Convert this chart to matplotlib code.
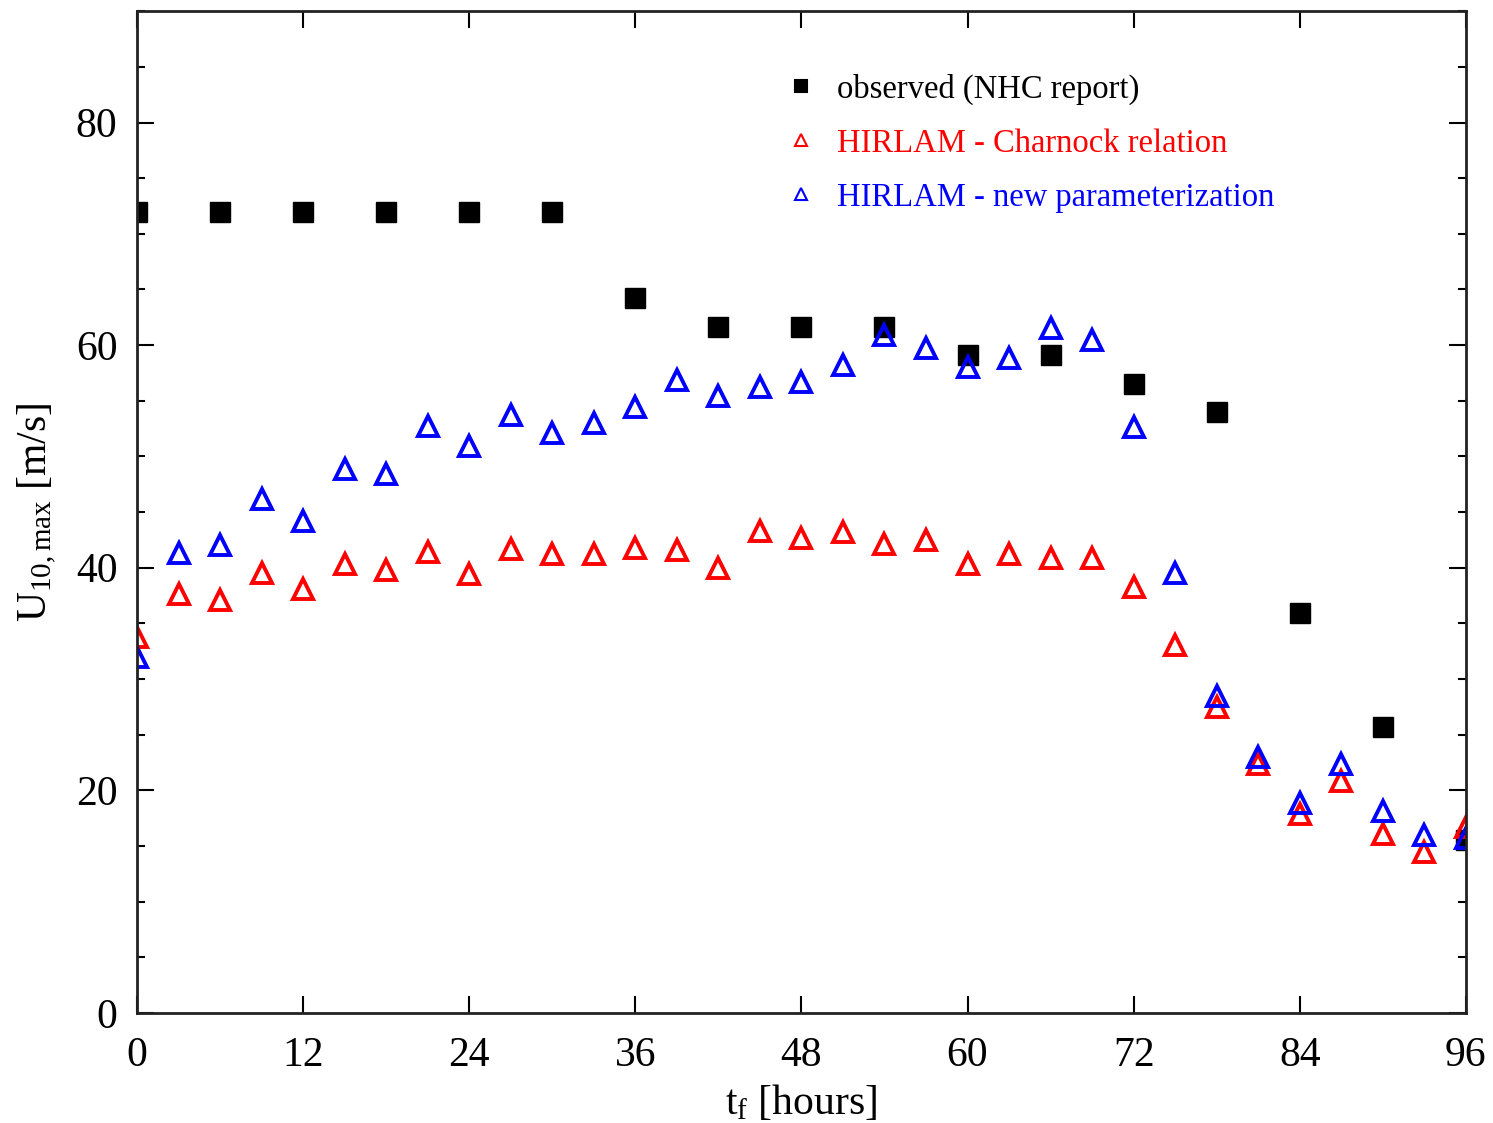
import matplotlib
matplotlib.use("Agg")
import matplotlib.pyplot as plt
from matplotlib.ticker import MultipleLocator

plt.rcParams['font.family'] = ['Liberation Serif', 'DejaVu Serif']
plt.rcParams['mathtext.fontset'] = 'custom'
plt.rcParams['mathtext.rm'] = 'Liberation Serif'
plt.rcParams['mathtext.it'] = 'Liberation Serif:italic'

t_obs = [0, 6, 12, 18, 24, 30, 36, 42, 48, 54, 60, 66, 72, 78, 84, 90, 96]
u_obs = [72, 72, 72, 72, 72, 72, 64.2, 61.6, 61.6, 61.6, 59.1, 59.1, 56.5, 54.0, 35.9, 25.7, 15.5]

t_mod = list(range(0, 97, 3))
u_charnock = [33.8, 37.6, 37.1, 39.5, 38.1, 40.3, 39.8, 41.4, 39.4, 41.7, 41.2, 41.2,
              41.8, 41.6, 40.0, 43.3, 42.7, 43.2, 42.1, 42.5, 40.3, 41.2, 40.9, 40.9,
              38.3, 33.1, 27.5, 22.4, 17.9, 20.8, 16.1, 14.5, 16.7]
u_newpar = [32.0, 41.3, 42.0, 46.2, 44.2, 48.9, 48.4, 52.7, 50.9, 53.7, 52.1, 53.0,
            54.4, 56.9, 55.4, 56.2, 56.7, 58.2, 60.9, 59.7, 58.0, 58.8, 61.5, 60.5,
            52.6, 39.5, 28.5, 23.0, 18.9, 22.4, 18.1, 16.0, 15.7]

labels = ["observed (NHC report)", "HIRLAM - Charnock relation", "HIRLAM - new parameterization"]
colors = ["black", "red", "blue"]

fig = plt.figure(figsize=(14.93, 11.23), dpi=100)
ax = fig.add_axes([0.0918, 0.098, 0.890, 0.892])

ax.plot(t_obs, u_obs, linestyle='none', marker='s', markersize=14, color='black', label=labels[0])
ax.plot(t_mod, u_charnock, linestyle='none', marker='^', markersize=15, markerfacecolor='none',
        markeredgecolor='red', markeredgewidth=2.8, label=labels[1])
ax.plot(t_mod, u_newpar, linestyle='none', marker='^', markersize=15, markerfacecolor='none',
        markeredgecolor='blue', markeredgewidth=2.8, label=labels[2])

ax.set_xlim(0, 96)
ax.set_ylim(0, 90)
ax.xaxis.set_major_locator(MultipleLocator(12))
ax.yaxis.set_major_locator(MultipleLocator(20))
ax.yaxis.set_minor_locator(MultipleLocator(5))
ax.tick_params(which='both', direction='in', top=True, right=True, labelsize=30, pad=14)
ax.tick_params(axis='x', which='both', pad=17)
ax.tick_params(which='major', length=12, width=1.5)
ax.tick_params(which='minor', length=6, width=1.5)
for s in ax.spines.values():
    s.set_linewidth(2)
    s.set_color('#222222')

ax.set_xlabel(r'$\mathregular{t_f}$ [hours]', fontsize=30, labelpad=6)
ax.set_ylabel(r'U$_{\mathregular{10,max}}$ [m/s]', fontsize=30, labelpad=12)

leg = ax.legend(loc='upper left', bbox_to_anchor=(0.468, 0.967), frameon=False, fontsize=23.5,
                markerscale=0.6, handlelength=0.8, handletextpad=0.7, labelspacing=0.72)
for txt, c in zip(leg.get_texts(), colors):
    txt.set_color(c)
for h in leg.legend_handles:
    h.set_markeredgewidth(1.5)

fig.savefig("out.png", dpi=100)
